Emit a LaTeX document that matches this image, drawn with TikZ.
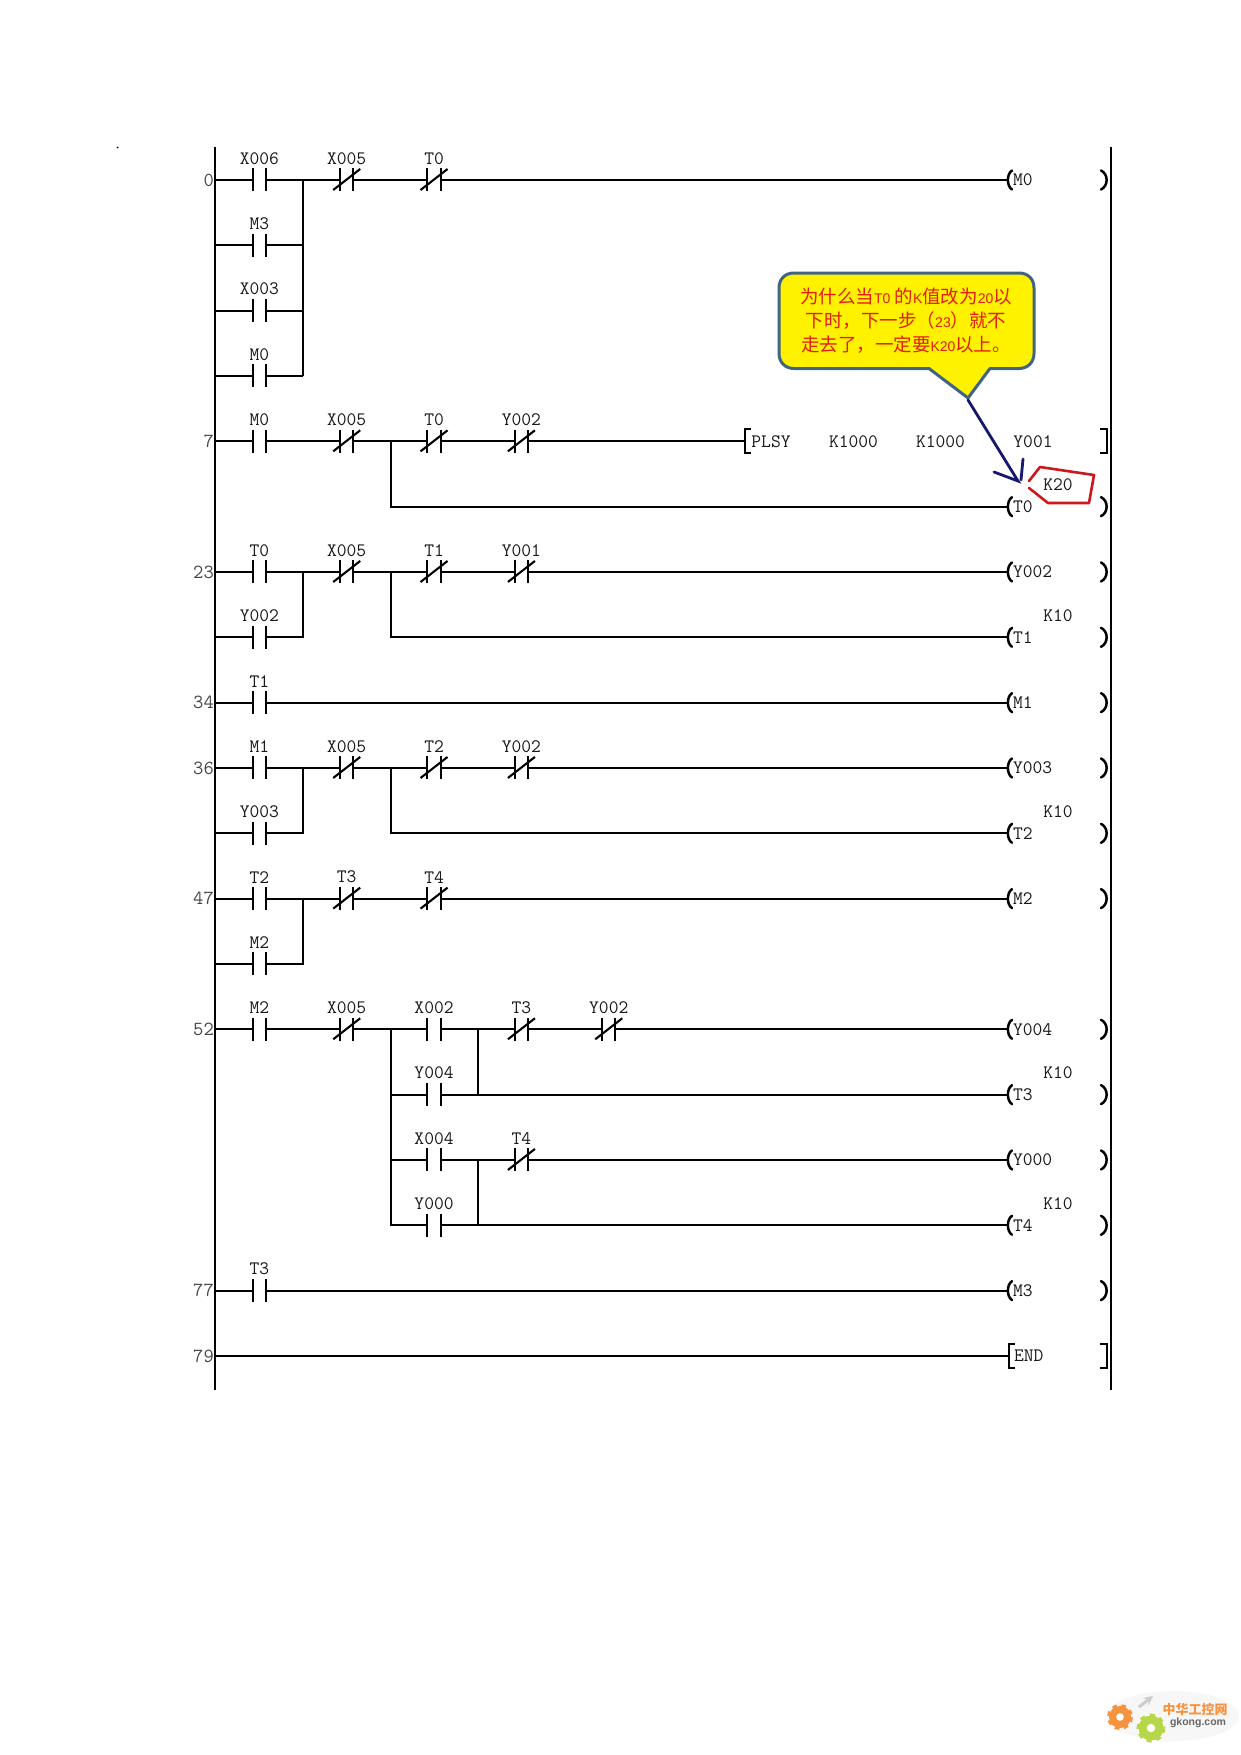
\documentclass[tikz,border=0pt]{standalone}
\usepackage{fontspec}
\newfontfamily\cjk{Noto Sans CJK SC}
\newfontfamily\lat{Liberation Sans}
\newcommand{\ry}[1]{180+65.33*#1}
\newcommand{\cx}[1]{172+87.35*#1}
\definecolor{noteedge}{RGB}{64,100,132}
\definecolor{noteink}{RGB}{225,30,15}
\definecolor{navyink}{RGB}{22,24,110}
\definecolor{redink}{RGB}{205,25,30}
\definecolor{gearorange}{RGB}{247,146,62}
\definecolor{geargreen}{RGB}{182,216,72}
\tikzset{
  wire/.style={line width=2.1pt,black},
  plate/.style={line width=2.1pt,black},
  paren/.style={line width=2.5pt,black,line cap=round},
  squarebr/.style={line width=2pt,black,line cap=butt,line join=miter},
  contactbox/.style={minimum width=13.3pt,minimum height=23pt,inner sep=0pt,outer sep=0pt},
  ladtext/.style={font=\ttfamily\fontsize{19}{19}\selectfont,text=black!90,inner sep=0pt},
  contactlabel/.style={ladtext,anchor=center},
  rowno/.style={font=\ttfamily\fontsize{20}{20}\selectfont,text=black!72,inner sep=0pt,anchor=east},
  coilbox/.style={ladtext,anchor=west,inner xsep=6pt,outer sep=0pt},
  dot/.style={circle,fill=black,inner sep=0pt},
  navyline/.style={line width=2.8pt,draw=navyink,line cap=round},
  redline/.style={line width=2.6pt,draw=redink,line join=round,line cap=round},
}
% #1 name #2 col #3 row #4 label
\newcommand{\NOc}[4]{%
  \node[contactbox] (#1) at ({\cx{#2}},{\ry{#3}}) {};
  \draw[plate] (#1.north west)--(#1.south west) (#1.north east)--(#1.south east);
  \node[contactlabel] (#1l) at ({\cx{#2}},{\ry{#3}-21.5}) {#4};
}
\newcommand{\NCc}[4]{%
  \NOc{#1}{#2}{#3}{#4}
  \draw[plate] ([shift={(-13.5,10)}]#1.center)--([shift={(13.5,-11)}]#1.center);
}
% coil: #1 name #2 row #3 text
\newcommand{\coil}[3]{%
  \node[coilbox] (#1) at (1007,{\ry{#2}}) {#3};
  \draw[paren] (1012,{\ry{#2}-9.5}) .. controls (1006.5,{\ry{#2}-6}) and (1006.5,{\ry{#2}+6}) .. (1012,{\ry{#2}+9.5});
  \draw[paren] (1101,{\ry{#2}-9.5}) .. controls (1108.5,{\ry{#2}-6}) and (1108.5,{\ry{#2}+6}) .. (1101,{\ry{#2}+9.5});
}
\newcommand{\railc}[2]{\coordinate (#1) at (215,{\ry{#2}});}
\newcommand{\rowlab}[3]{\node[rowno] (#1) at (214,{\ry{#3}}) {#2};}
\newcommand{\ktext}[3]{\node[contactlabel] (#1) at (1058,{\ry{#2}-22}) {#3};}
\begin{document}
\begin{tikzpicture}[x=1pt,y=-1pt]
\useasboundingbox (0,0) rectangle (1241,1755);
\fill[white] (0,0) rectangle (1241,1755);
\node[dot,minimum size=1.8pt] (speck) at (117.6,147.5) {};

% rails
\coordinate (railLt) at (215,147); \coordinate (railLb) at (215,1390);
\coordinate (railRt) at (1111,147); \coordinate (railRb) at (1111,1390);
\draw[wire,line width=2.2pt] (railLt)--(railLb);
\draw[wire,line width=2.2pt] (railRt)--(railRb);

% row numbers
\rowlab{n0}{0}{0}\rowlab{n7}{7}{4}\rowlab{n23}{23}{6}\rowlab{n34}{34}{8}\rowlab{n36}{36}{9}
\rowlab{n47}{47}{11}\rowlab{n52}{52}{13}\rowlab{n77}{77}{17}\rowlab{n79}{79}{18}

% rung 0
\railc{r0}{0}\railc{r1}{1}\railc{r2}{2}\railc{r3}{3}
\NOc{a0}{1}{0}{X006}\NOc{a1}{1}{1}{M3}\NOc{a2}{1}{2}{X003}\NOc{a3}{1}{3}{M0}
\NCc{a4}{2}{0}{X005}\NCc{a5}{3}{0}{T0}
\coil{c0}{0}{M0}
\coordinate (j0) at (302.7,{\ry{0}});\coordinate (j1) at (302.7,{\ry{1}});\coordinate (j2) at (302.7,{\ry{2}});\coordinate (j3) at (302.7,{\ry{3}});
\draw[wire] (r0)--(a0.west)(a0.east)--(j0)--(a4.west) (a4.east)--(a5.west) (a5.east)--(c0.west);
\draw[wire] (r1)--(a1.west)(a1.east)--(j1) (r2)--(a2.west)(a2.east)--(j2) (r3)--(a3.west)(a3.east)--(j3) (j0)--(j3);

% rung 7
\railc{r4}{4}
\NOc{b0}{1}{4}{M0}\NCc{b1}{2}{4}{X005}\NCc{b2}{3}{4}{T0}\NCc{b3}{4}{4}{Y002}
\coordinate (j4) at (391,{\ry{4}});\coordinate (j5) at (391,{\ry{5}});
\node[minimum width=0pt,minimum height=24pt,inner sep=0pt,outer sep=0pt] (plsy) at (745,{\ry{4}}) {};
\draw[squarebr] ([xshift=6pt]plsy.north)--(plsy.north)--(plsy.south)--([xshift=6pt]plsy.south);
\node[ladtext] (plsy0) at (771,{\ry{4}}) {PLSY};
\node[ladtext] (plsy1) at (853.5,{\ry{4}}) {K1000};
\node[ladtext] (plsy2) at (940.5,{\ry{4}}) {K1000};
\node[ladtext] (plsy3) at (1033,{\ry{4}}) {Y001};
\coordinate (br4) at (1107,{\ry{4}});
\draw[squarebr] ([shift={(-7,-12)}]br4)--([shift={(0,-12)}]br4)--([shift={(0,12)}]br4)--([shift={(-7,12)}]br4);
\coil{c1}{5}{T0}
\draw[wire] (r4)--(b0.west)(b0.east)--(b1.west)(b1.east)--(b2.west)(b2.east)--(b3.west)(b3.east)--(plsy.center);
\draw[wire] (j4)--(j5)--(c1.west);
\node[contactlabel] (k20) at (1058,485) {K20};

% rung 23
\railc{r6}{6}\railc{r7}{7}
\NOc{d0}{1}{6}{T0}\NOc{d1}{1}{7}{Y002}\NCc{d2}{2}{6}{X005}\NCc{d3}{3}{6}{T1}\NCc{d4}{4}{6}{Y001}
\coordinate (j6) at (302.7,{\ry{6}});\coordinate (j7) at (302.7,{\ry{7}});
\coordinate (j8) at (391,{\ry{6}});\coordinate (j9) at (391,{\ry{7}});
\coil{c2}{6}{Y002}\coil{c3}{7}{T1}\ktext{k1}{7}{K10}
\draw[wire] (r6)--(d0.west)(d0.east)--(d2.west)(d2.east)--(d3.west)(d3.east)--(d4.west)(d4.east)--(c2.west);
\draw[wire] (r7)--(d1.west)(d1.east)--(j7)--(j6) (j8)--(j9)--(c3.west);

% rung 34
\railc{r8}{8}\NOc{e0}{1}{8}{T1}\coil{c4}{8}{M1}
\draw[wire] (r8)--(e0.west)(e0.east)--(c4.west);

% rung 36
\railc{r9}{9}\railc{r10}{10}
\NOc{f0}{1}{9}{M1}\NOc{f1}{1}{10}{Y003}\NCc{f2}{2}{9}{X005}\NCc{f3}{3}{9}{T2}\NCc{f4}{4}{9}{Y002}
\coordinate (j10) at (302.7,{\ry{9}});\coordinate (j11) at (302.7,{\ry{10}});
\coordinate (j12) at (391,{\ry{9}});\coordinate (j13) at (391,{\ry{10}});
\coil{c5}{9}{Y003}\coil{c6}{10}{T2}\ktext{k2}{10}{K10}
\draw[wire] (r9)--(f0.west)(f0.east)--(f2.west)(f2.east)--(f3.west)(f3.east)--(f4.west)(f4.east)--(c5.west);
\draw[wire] (r10)--(f1.west)(f1.east)--(j11)--(j10) (j12)--(j13)--(c6.west);

% rung 47
\railc{r11}{11}\railc{r12}{12}
\NOc{g0}{1}{11}{T2}\NOc{g1}{1}{12}{M2}\NCc{g2}{2}{11}{T3}\NCc{g3}{3}{11}{T4}
\coordinate (j14) at (302.7,{\ry{11}});\coordinate (j15) at (302.7,{\ry{12}});
\coil{c7}{11}{M2}
\draw[wire] (r11)--(g0.west)(g0.east)--(g2.west)(g2.east)--(g3.west)(g3.east)--(c7.west);
\draw[wire] (r12)--(g1.west)(g1.east)--(j15)--(j14);

% rung 52
\railc{r13}{13}
\NOc{h0}{1}{13}{M2}\NCc{h1}{2}{13}{X005}\NOc{h2}{3}{13}{X002}\NCc{h3}{4}{13}{T3}\NCc{h4}{5}{13}{Y002}
\NOc{h5}{3}{14}{Y004}\NOc{h6}{3}{15}{X004}\NCc{h7}{4}{15}{T4}\NOc{h8}{3}{16}{Y000}
\coordinate (j16) at (391,{\ry{13}});\coordinate (j17) at (391,{\ry{14}});\coordinate (j18) at (391,{\ry{15}});\coordinate (j19) at (391,{\ry{16}});
\coordinate (j20) at (477.7,{\ry{13}});\coordinate (j21) at (477.7,{\ry{14}});\coordinate (j22) at (477.7,{\ry{15}});\coordinate (j23) at (477.7,{\ry{16}});
\coil{c8}{13}{Y004}\coil{c9}{14}{T3}\coil{c10}{15}{Y000}\coil{c11}{16}{T4}
\ktext{k3}{14}{K10}\ktext{k4}{16}{K10}
\draw[wire] (r13)--(h0.west)(h0.east)--(h1.west)(h1.east)--(h2.west)(h2.east)--(h3.west)(h3.east)--(h4.west)(h4.east)--(c8.west);
\draw[wire] (j16)--(j19)--(h8.west)(h8.east)--(j23)--(c11.west);
\draw[wire] (j23)--(j22);
\draw[wire] (j17)--(h5.west)(h5.east)--(j21)--(c9.west) (j21)--(j20);
\draw[wire] (j18)--(h6.west)(h6.east)--(h7.west)(h7.east)--(c10.west);

% rung 77, 79
\railc{r17}{17}\NOc{i0}{1}{17}{T3}\coil{c12}{17}{M3}
\draw[wire] (r17)--(i0.west)(i0.east)--(c12.west);
\railc{r18}{18}
\node[minimum width=0pt,minimum height=24pt,inner sep=0pt,outer sep=0pt] (endb) at (1009,{\ry{18}}) {};
\draw[squarebr] ([xshift=6pt]endb.north)--(endb.north)--(endb.south)--([xshift=6pt]endb.south);
\node[coilbox,inner xsep=0pt] (endt) at (1014,{\ry{18}}) {END};
\coordinate (br18) at (1107,{\ry{18}});
\draw[squarebr] ([shift={(-7,-12)}]br18)--([shift={(0,-12)}]br18)--([shift={(0,12)}]br18)--([shift={(-7,12)}]br18);
\draw[wire] (r18)--(endb.center);

% callout
\draw[line width=3pt,draw=noteedge,fill=yellow,line join=round]
  (929,368.5) -- (794,368.5) .. controls (785,368.5) and (779,362) .. (779,353.5) -- (779,288)
  .. controls (779,279) and (785,273) .. (794,273) -- (1019,273) .. controls (1028,273) and (1034,279) .. (1034,288)
  -- (1034,353.5) .. controls (1034,362) and (1028,368.5) .. (1019,368.5) -- (990,368.5) -- (968,398) -- cycle;
\newcommand{\sm}[1]{{\lat\fontsize{14}{14}\selectfont #1}}
\newcommand{\fwc}{\symbol{"FF0C}}
\newcommand{\fwl}{\symbol{"FF08}}
\newcommand{\fwr}{\symbol{"FF09}}
\node[align=center,text=noteink,inner sep=0pt,font=\cjk\fontsize{18.5}{24}\selectfont] (notetext) at (906,320.5)
 {为什么当\sm{T0} 的\sm{K}值改为\sm{20}以\\下时\fwc 下一步\fwl\sm{23}\fwr 就不\\走去了\fwc 一定要\sm{K20}以上。};
\coordinate (tail) at (968,400); \coordinate (tip) at (1018,481);
\coordinate (ha) at (994,472); \coordinate (hb) at (1023,459); \coordinate (hc) at (1021,480);
\draw[navyline] (tail)--(tip)--(ha);
\draw[navyline] (hb)--(hc);
% red outline
\coordinate (p1) at (1029,481);\coordinate (p2) at (1040,467);\coordinate (p3) at (1094,475);\coordinate (p4) at (1089,503);\coordinate (p5) at (1048,503);\coordinate (p6) at (1029,488);
\draw[redline] (p1)--(p2)--(p3)--(p4)--(p5)--(p6);

% logo
\fill[black!3] (1173,1716) ellipse (66 and 25);
\draw[line width=5pt,draw=gearorange,dash pattern=on 4.2pt off 4.2pt] (1120,1717) circle (10.5);
\fill[gearorange] (1120,1717) circle (11);\fill[white] (1120,1717) circle (3.8);
\draw[line width=5pt,draw=geargreen,dash pattern=on 4.6pt off 4.6pt] (1151,1728) circle (12);
\fill[geargreen] (1151,1728) circle (12.5);\fill[white] (1151,1728) circle (4.2);
\draw[line width=3pt,draw=black!20,-stealth] (1139,1707) -- (1153,1696);
\node[font=\cjk\bfseries\fontsize{13}{13}\selectfont,text=gearorange,inner sep=0pt] (logoa) at (1195,1709) {中华工控网};
\node[font=\lat\bfseries\fontsize{10.5}{10.5}\selectfont,text=black!60,inner sep=0pt] (logob) at (1198,1723) {gkong.com};
\end{tikzpicture}
\end{document}
